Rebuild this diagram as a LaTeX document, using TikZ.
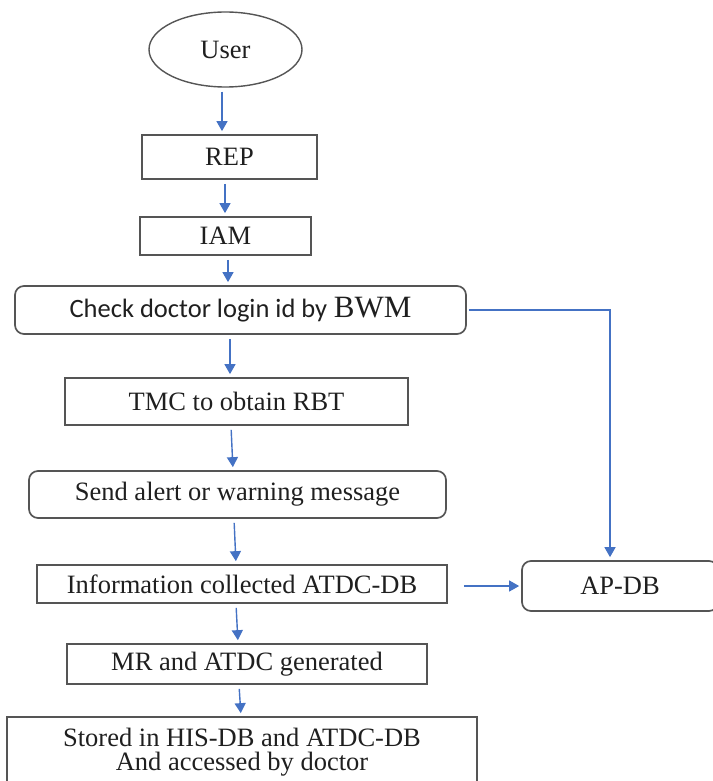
\documentclass[tikz,border=0pt]{standalone}
\usepackage{fontspec}
\setmainfont{Liberation Serif}
\newfontfamily\calibrifont{Carlito}
\usetikzlibrary{arrows.meta,shapes.geometric}
\definecolor{flowink}{HTML}{1F1F1F}
\definecolor{flowframe}{HTML}{555555}
\definecolor{flowblue}{HTML}{4472C4}

\begin{document}
\begin{tikzpicture}[
  x=1pt,
  y=-1pt,
  every node/.style={font=\fontsize{26.5}{24}\selectfont, text=flowink, inner sep=0pt},
  stepbox/.style={draw=flowframe, line width=1.7pt, rectangle},
  roundbox/.style={stepbox, rounded corners=9pt},
  startnode/.style={draw=flowframe, line width=1.4pt, ellipse},
  flow/.style={flowblue, line width=1.4pt, -{Triangle[length=10pt, width=11pt]},
               shorten <=4pt, shorten >=3pt}
]
  % ---- page, same size as the scanned figure ----
  \useasboundingbox (0,0) rectangle (712,781);

  % ---- main column ----
  \node[startnode, minimum width=153pt, minimum height=75pt] (user) at (225.5,49.5) {User};
  \node[stepbox, minimum width=175pt, minimum height=44pt] (rep) at (229.5,157) {REP};
  \node[stepbox, minimum width=171pt, minimum height=38pt] (iam) at (225.5,236) {IAM};
  \node[roundbox, minimum width=451pt, minimum height=48pt] (check) at (240.5,310)
    {{\calibrifont Check doctor login id by} {\fontsize{31}{31}\selectfont BWM}};
  \node[stepbox, minimum width=343pt, minimum height=47pt] (tmc) at (236.5,401.5) {TMC to obtain RBT};
  \node[roundbox, minimum width=417pt, minimum height=47pt] (send) at (237.5,494.5) {Send alert or warning message};
  \node[stepbox, minimum width=410pt, minimum height=38pt] (info) at (242,584) {Information collected ATDC-DB};
  \node[stepbox, minimum width=360pt, minimum height=40pt] (mr) at (247,664) {MR and ATDC generated};
  % runs off the bottom of the page, as in the source
  \node[stepbox, minimum width=470pt, minimum height=71pt, align=center] (stored) at (242,752.5)
    {Stored in HIS-DB and ATDC-DB\\And accessed by doctor};

  % ---- side store, cut by the right edge ----
  \node[roundbox, minimum width=196pt, minimum height=50pt] (apdb) at (620,586) {AP-DB};

  % ---- vertical flow ----
  \foreach \from/\to/\xa/\xb in {user/rep/222/222, rep/iam/225/225, iam/check/228/228,
      check/tmc/230/230, tmc/send/231/233, send/info/234/236, info/mr/236/238, mr/stored/239/241}
    \draw[flow] (\from.south -| \xa,0) -- (\to.north -| \xb,0);

  % ---- branches to AP-DB ----
  \draw[flow, shorten <=2pt] (check.east) -| (apdb.north -| 610,0);
  \draw[flow, shorten <=16pt, shorten >=2pt] (info.east |- apdb.west) -- (apdb.west);
\end{tikzpicture}
\end{document}
